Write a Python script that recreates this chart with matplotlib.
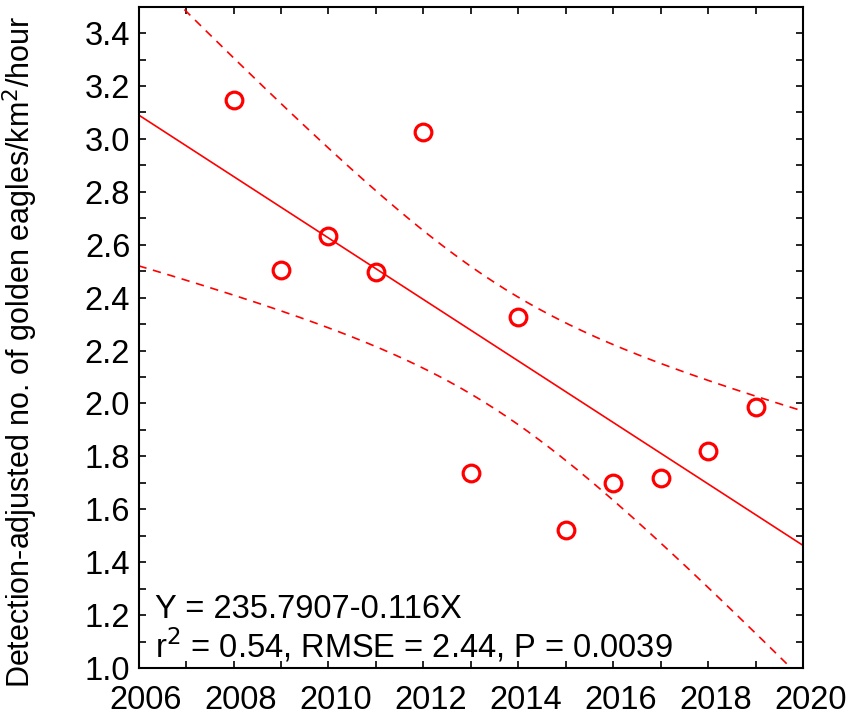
import numpy as np
import matplotlib
matplotlib.use("Agg")
import matplotlib.pyplot as plt
import matplotlib.transforms as mtransforms
from matplotlib.ticker import MultipleLocator

plt.rcParams['font.family'] = ['Liberation Sans', 'DejaVu Sans']

years = np.array([2008, 2009, 2010, 2011, 2012, 2013, 2014, 2015, 2016, 2017, 2018, 2019])
eagles = np.array([3.147, 2.506, 2.634, 2.498, 3.026, 1.736, 2.328, 1.521, 1.70, 1.72, 1.82, 1.985])
eq_text = "Y = 235.7907-0.116X"
stat_text = "r$^2$ = 0.54, RMSE = 2.44, P = 0.0039"
ylabel = "Detection-adjusted no. of golden eagles/km$^2$/hour"

red = "#ff0000"
fig = plt.figure(figsize=(8.63, 7.15), dpi=100)
ax = fig.add_axes([0.1605, 0.0657, 0.7705, 0.925])

# linear fit and 95% confidence band
b, a = np.polyfit(years, eagles, 1)
n = len(years)
xm = years.mean()
resid = eagles - (a + b * years)
s = np.sqrt(np.sum(resid ** 2) / (n - 2))
sxx = np.sum((years - xm) ** 2)
t = 2.228
xs = np.linspace(2006, 2020, 300)
yfit = a + b * xs
half = t * s * np.sqrt(1 / n + (xs - xm) ** 2 / sxx)

ax.plot(xs, yfit, color=red, lw=1.2)
ax.plot(xs, yfit + half, color=red, lw=1.2, ls=(0, (5, 4)))
ax.plot(xs, yfit - half, color=red, lw=1.2, ls=(0, (5, 4)))
ax.plot(years, eagles, 'o', ms=12, mfc='none', mec=red, mew=2.3, zorder=5)

ax.set_xlim(2006, 2020)
ax.set_ylim(1.0, 3.5)
ax.xaxis.set_major_locator(MultipleLocator(2))
ax.xaxis.set_minor_locator(MultipleLocator(1))
ax.yaxis.set_major_locator(MultipleLocator(0.2))
ax.yaxis.set_minor_locator(MultipleLocator(0.1))
ax.yaxis.set_major_formatter(matplotlib.ticker.FormatStrFormatter('%.1f'))
ax.tick_params(which='both', direction='in', top=True, right=True, length=5, width=1.2, labelsize=23.5)
ax.tick_params(axis='x', pad=12)
ax.tick_params(axis='y', pad=6)
for sp in ax.spines.values():
    sp.set_linewidth(1.5)

# x tick labels sit slightly right of their ticks in the reference
offset = mtransforms.ScaledTranslation(7 / 100, 0, fig.dpi_scale_trans)
for lab in ax.get_xticklabels():
    lab.set_transform(lab.get_transform() + offset)

fig.text(20 / 863, 1 - 352 / 715, ylabel, fontsize=22, rotation=90, ha='center', va='center')
ax.text(0.025, 0.0756, eq_text, transform=ax.transAxes, fontsize=23.5, va='baseline')
ax.text(0.025, 0.0166, stat_text, transform=ax.transAxes, fontsize=23.5, va='baseline')

fig.savefig("out.png", dpi=100)
